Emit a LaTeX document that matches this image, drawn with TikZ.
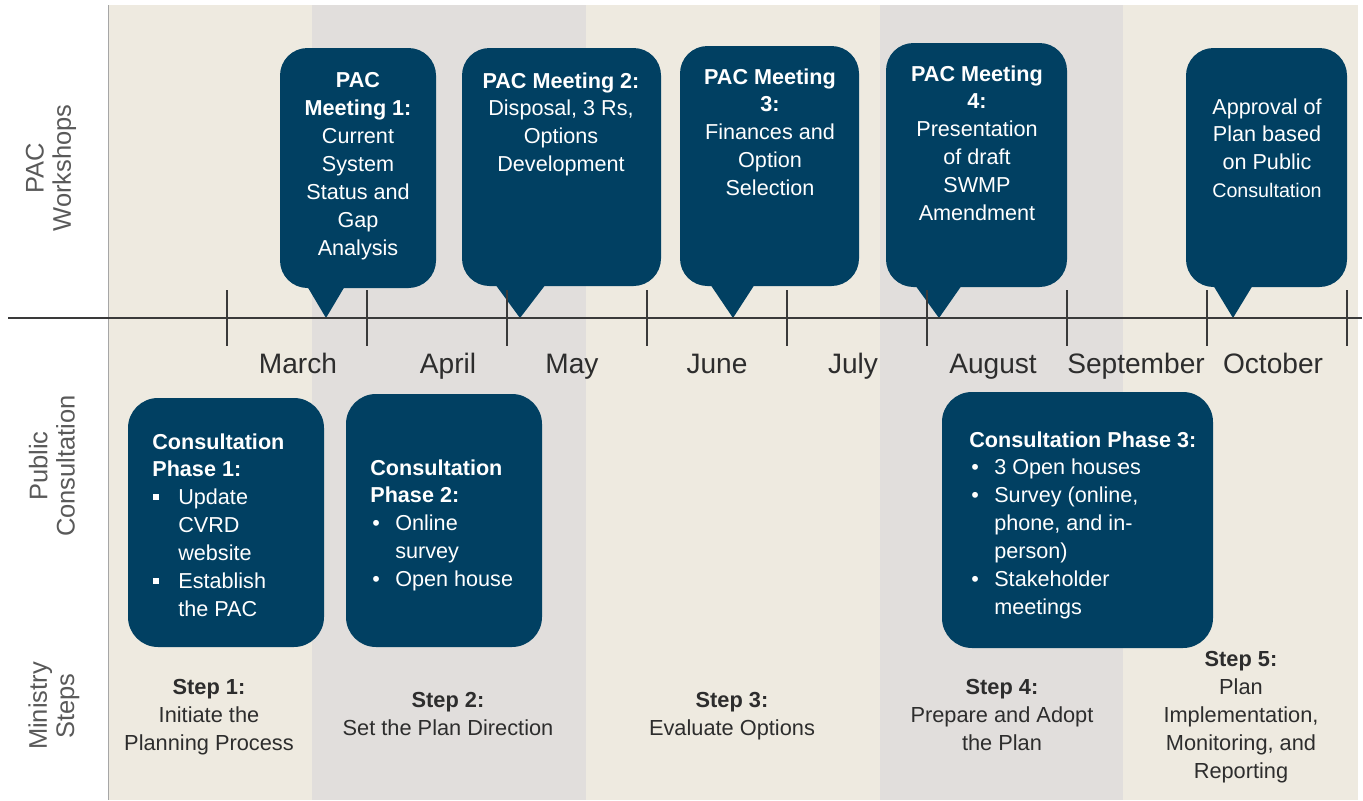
\documentclass[tikz,border=0pt]{standalone}
\usepackage{fontspec}
\setmainfont{Liberation Sans}
\usepackage{xcolor}
\usepackage{tikz}

\definecolor{pacblue}{RGB}{1,64,98}
\definecolor{bandbeige}{RGB}{238,234,224}
\definecolor{bandgrey}{RGB}{225,222,220}
\definecolor{axisgrey}{RGB}{58,58,58}
\definecolor{labelgrey}{RGB}{89,89,89}
\definecolor{stepgrey}{RGB}{45,45,45}

\newcommand{\sqbullet}{\makebox[0.52cm][l]{\hspace{0.02cm}\rule[0.1cm]{0.12cm}{0.12cm}}}
\newcommand{\rdbullet}{\makebox[0.5cm][l]{\hspace{0.04cm}\textbullet}}

\tikzset{
  bubble/.style={fill=pacblue, rounded corners=0.55cm},
  pointer/.style={fill=pacblue},
  boxtext/.style={text=white, inner sep=0pt, font=\fontsize{12.3}{15.9}\selectfont},
  steptext/.style={text=stepgrey, inner sep=0pt, align=center, font=\fontsize{12.4}{15.9}\selectfont},
  monthtext/.style={text=stepgrey, inner sep=0pt, anchor=base, font=\fontsize{16}{19}\selectfont},
  rowtext/.style={text=labelgrey, rotate=90, align=center, inner sep=0pt, font=\fontsize{14.5}{15.5}\selectfont},
  monthtick/.style={draw=axisgrey, line width=0.6pt}
}

\begin{document}
\begin{tikzpicture}[x=0.02cm, y=-0.02cm]
\useasboundingbox (0,0) rectangle (1363,801);

\fill[bandbeige] (108,5) rectangle (1358,800);
\fill[bandgrey] (312,5) rectangle (586,800);
\fill[bandgrey] (880,5) rectangle (1123,800);
\draw[gray!70, line width=0.4pt] (108,5) -- (108,800);

\node[rowtext] (rowpac) at (51,168) {PAC\\Workshops};
\node[rowtext] (rowpublic) at (52,466) {Public\\Consultation};
\node[rowtext] (rowministry) at (54,706) {Ministry\\Steps};

\coordinate (tip1) at (326,318);
\coordinate (tip2) at (520,318);
\coordinate (tip3) at (733,318);
\coordinate (tip4) at (939,318);
\coordinate (tip5) at (1233,318);

\fill[bubble] (280,48) rectangle (436,288);
\fill[pointer] (307,286) -- (345,286) -- (tip1) -- cycle;
\fill[bubble] (462,48) rectangle (661,286);
\fill[pointer] (495,284) -- (546,284) -- (tip2) -- cycle;
\fill[bubble] (680,46) rectangle (859,286);
\fill[pointer] (710,284) -- (755,284) -- (tip3) -- cycle;
\fill[bubble] (886,43) rectangle (1067,287);
\fill[pointer] (915,285) -- (962,285) -- (tip4) -- cycle;
\fill[bubble] (1186,48) rectangle (1347,287);
\fill[pointer] (1213,285) -- (1253,285) -- (tip5) -- cycle;

\node[boxtext, align=center, anchor=north] (pac1) at (358,72) {\textbf{PAC}\\\textbf{Meeting 1:}\\Current\\System\\Status and\\Gap\\Analysis};
\node[boxtext, align=center, anchor=north] (pac2) at (561,72) {\textbf{PAC Meeting 2:}\\Disposal, 3 Rs,\\Options\\Development};
\node[boxtext, align=center, anchor=north] (pac3) at (770,68) {\textbf{PAC Meeting}\\\textbf{3:}\\Finances and\\Option\\Selection};
\node[boxtext, align=center, anchor=north] (pac4) at (977,65) {\textbf{PAC Meeting}\\\textbf{4:}\\Presentation\\of draft\\SWMP\\Amendment};
\node[boxtext, align=center, anchor=north] (pac5) at (1267,98) {Approval of\\Plan based\\on Public\\{\fontsize{11.2}{15.9}\selectfont Consultation}};

\coordinate (axisL) at (8,318);
\coordinate (axisR) at (1362,318);
\draw[axisgrey, line width=1.4pt] (axisL) -- (axisR);
\foreach \x in {227,367,...,1347}
  \draw[monthtick] (\x,290) -- (\x,346);

\node[monthtext] (march) at (298,373) {March};
\node[monthtext] (april) at (448,373) {April};
\node[monthtext] (may) at (572,373) {May};
\node[monthtext] (june) at (717,373) {June};
\node[monthtext] (july) at (853,373) {July};
\node[monthtext] (august) at (993,373) {August};
\node[monthtext] (september) at (1136,373) {September};
\node[monthtext] (october) at (1273,373) {October};

\fill[bubble, rounded corners=0.6cm] (128,398) rectangle (324,647);
\fill[bubble, rounded corners=0.6cm] (346,394) rectangle (542,647);
\fill[bubble, rounded corners=0.6cm] (942,392) rectangle (1213,648);

\node[boxtext, align=left, anchor=north west] (phase1) at (152,433) {\textbf{Consultation}\\\textbf{Phase 1:}\\\sqbullet Update\\\hspace*{0.52cm}CVRD\\\hspace*{0.52cm}website\\\sqbullet Establish\\\hspace*{0.52cm}the PAC};
\node[boxtext, align=left, anchor=north west] (phase2) at (370,459) {\textbf{Consultation}\\\textbf{Phase 2:}\\\rdbullet Online\\\hspace*{0.5cm}survey\\\rdbullet Open house};
\node[boxtext, align=left, anchor=north west] (phase3) at (969,431) {\textbf{Consultation Phase 3:}\\\rdbullet 3 Open houses\\\rdbullet Survey (online,\\\hspace*{0.5cm}phone, and in-\\\hspace*{0.5cm}person)\\\rdbullet Stakeholder\\\hspace*{0.5cm}meetings};

\node[steptext, anchor=north] (step1) at (209,679) {\textbf{Step 1:}\\Initiate the\\Planning Process};
\node[steptext, anchor=north] (step2) at (448,692) {\textbf{Step 2:}\\Set the Plan Direction};
\node[steptext, anchor=north] (step3) at (732,692) {\textbf{Step 3:}\\Evaluate Options};
\node[steptext, anchor=north] (step4) at (1002,679) {\textbf{Step 4:}\\Prepare and Adopt\\the Plan};
\node[steptext, anchor=north] (step5) at (1241,651) {\textbf{Step 5:}\\Plan\\Implementation,\\Monitoring, and\\Reporting};
\end{tikzpicture}
\end{document}
